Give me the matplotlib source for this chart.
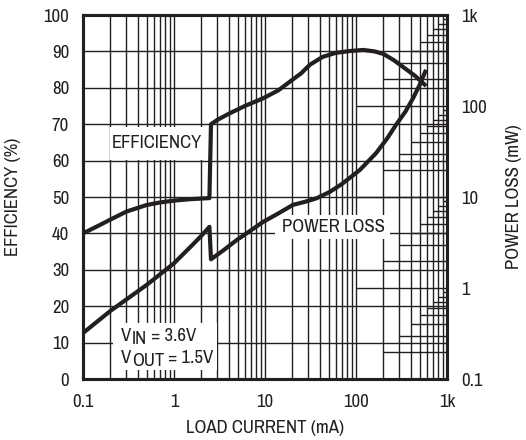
import numpy as np
import matplotlib
matplotlib.use("Agg")
import matplotlib.pyplot as plt
from matplotlib import font_manager
from matplotlib.patches import Rectangle

# pick a narrow sans font if one is installed
names = {f.name for f in font_manager.fontManager.ttflist}
narrow = [n for n in names if 'Narrow' in n or 'Condensed' in n]
condensed_dejavu = any(f.name == 'DejaVu Sans' and f.stretch == 'condensed'
                       for f in font_manager.fontManager.ttflist)
if 'Liberation Sans Narrow' in names:
    plt.rcParams['font.family'] = ['Liberation Sans Narrow', 'DejaVu Sans']
    fsize = 13.5
elif narrow:
    plt.rcParams['font.family'] = [sorted(narrow)[0], 'DejaVu Sans']
    fsize = 13.5
elif condensed_dejavu:
    plt.rcParams['font.family'] = ['DejaVu Sans']
    plt.rcParams['font.stretch'] = 'condensed'
    fsize = 12
else:
    plt.rcParams['font.family'] = ['Liberation Sans', 'DejaVu Sans']
    fsize = 12
plt.rcParams['font.size'] = fsize

# efficiency curve (left axis, %)
eff_current = [0.1, 0.15, 0.2, 0.3, 0.5, 0.7, 1, 1.5, 2.45, 2.55, 3, 4.1, 6, 9.5,
               14, 18.8, 25, 31, 43, 60, 85, 120, 160, 200, 260, 330, 450, 590]
efficiency = [40, 42.2, 43.8, 46.0, 47.8, 48.5, 49.0, 49.4, 49.7, 70, 71.2, 73.0,
              75.0, 77.1, 79.3, 81.7, 84.0, 86.3, 88.5, 89.6, 90.1, 90.4, 90.0,
              89.3, 87.6, 85.7, 83.2, 80.5]

# power loss curve (right axis, mW)
pl_current = [0.1, 0.2, 0.5, 1, 1.5, 2, 2.45, 2.55, 3.5, 4.9, 7, 9.6, 14, 20.3,
              28, 37, 51.7, 70, 110, 166, 220, 275, 350, 424, 500, 588]
power_loss = [0.32, 0.56, 1.08, 1.87, 2.8, 3.75, 4.7, 2.07, 2.6, 3.37, 4.3, 5.35,
              6.6, 8.2, 8.9, 9.7, 11.4, 13.9, 19.8, 30.3, 44, 62, 87, 122, 170, 250]

x_ticks = [0.1, 1, 10, 100, 1000]
x_labels = ['0.1', '1', '10', '100', '1k']
eff_ticks = list(range(0, 101, 10))
pl_ticks = [0.1, 1, 10, 100, 1000]
pl_labels = ['0.1', '1', '10', '100', '1k']

ink = '#231f20'

fig = plt.figure(figsize=(5.26, 4.4), dpi=100)
ax = fig.add_axes([0.1578, 0.1386, 0.692, 0.8273])
ax.set_xscale('log')
ax.set_xlim(0.1, 1000)
ax.set_ylim(0, 100)
ax.set_xticks(x_ticks)
ax.set_xticklabels(x_labels)
ax.xaxis.set_minor_locator(matplotlib.ticker.LogLocator(base=10, subs=np.arange(2, 10)))
ax.xaxis.set_minor_formatter(matplotlib.ticker.NullFormatter())
ax.set_yticks(eff_ticks)
ax.grid(which='both', axis='x', color=ink, linewidth=1.0)
ax.grid(which='major', axis='y', color=ink, linewidth=1.0)
ax.tick_params(which='both', length=0, labelcolor=ink)
ax.tick_params(axis='x', pad=11)
ax.tick_params(axis='y', pad=10)
ax.set_xlabel('LOAD CURRENT (mA)', labelpad=7, color=ink)
ax.set_ylabel('EFFICIENCY (%)', labelpad=16, color=ink)
for s in ax.spines.values():
    s.set_linewidth(2.2)
    s.set_color(ink)

ax.plot(eff_current, efficiency, color=ink, linewidth=3, zorder=3,
        solid_joinstyle='round', solid_capstyle='butt')

ax2 = ax.twinx()
ax2.set_yscale('log')
ax2.set_ylim(0.1, 1000)
ax2.set_yticks(pl_ticks)
ax2.set_yticklabels(pl_labels)
ax2.yaxis.set_minor_locator(matplotlib.ticker.NullLocator())
ax2.tick_params(which='both', length=0, pad=10, labelcolor=ink)
ax2.set_ylabel('POWER LOSS (mW)', labelpad=14, color=ink)
for s in ax2.spines.values():
    s.set_linewidth(2.2)
    s.set_color(ink)

# right-axis minor grid drawn as a staircase from the right edge
for decade in [0.1, 1, 10, 100]:
    for k in range(1, 10):
        v = k * decade
        if v <= 0.1:
            continue
        ax2.hlines(v, k * 100, 1000, color=ink, linewidth=1.0, zorder=1)

ax2.plot(pl_current, power_loss, color=ink, linewidth=3, zorder=3,
         solid_joinstyle='round', solid_capstyle='butt')

# white label boxes
for (x0, x1, y0, y1) in [(0.074, 0.341, 0.602, 0.692),
                         (0.527, 0.843, 0.385, 0.451),
                         (0.082, 0.368, 0.025, 0.154)]:
    ax.add_patch(Rectangle((x0, y0), x1 - x0, y1 - y0, transform=ax.transAxes,
                           facecolor='white', edgecolor='none', zorder=2))

ax.text(0.204, 0.648, 'EFFICIENCY', transform=ax.transAxes, ha='center',
        va='center', zorder=4, color=ink)
ax.text(0.687, 0.418, 'POWER LOSS', transform=ax.transAxes, ha='center',
        va='center', zorder=4, color=ink)

def sub_label(x, y, sub, rest):
    t1 = ax.text(x, y, 'V', transform=ax.transAxes, ha='left', va='baseline',
                 zorder=4, color=ink)
    t2 = ax.annotate(sub, xy=(1, 0), xycoords=t1, xytext=(0.5, -2.4),
                     textcoords='offset points', ha='left', va='bottom',
                     zorder=4, color=ink)
    ax.annotate(rest, xy=(1, 0), xycoords=t2, xytext=(0, 2.4),
                textcoords='offset points', ha='left', va='bottom',
                zorder=4, color=ink)

sub_label(0.104, 0.105, 'IN', ' = 3.6V')
sub_label(0.104, 0.044, 'OUT', ' = 1.5V')

fig.savefig('out.png', dpi=100)
